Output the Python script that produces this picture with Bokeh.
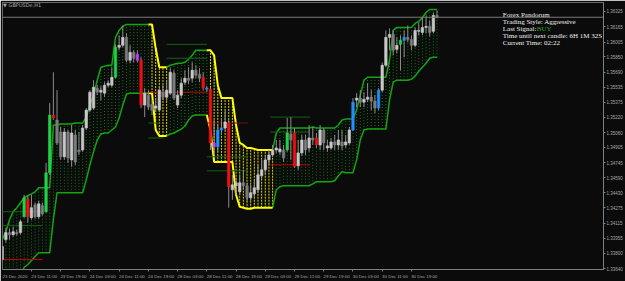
import numpy as np
from bokeh.plotting import figure
from bokeh.models import FixedTicker, NumeralTickFormatter, Span, Label, ColumnDataSource
from bokeh.core.properties import value
from bokeh.embed import file_html
from bokeh.resources import INLINE

# ---------------- data ----------------
symbol_title = "\u25BC GBPUSDe,H1"

open_ = [
    1.33735, 1.33943, 1.34016, 1.33995, 1.34016, 1.34016, 1.34182, 1.34369, 1.34172, 1.34307,
    1.34182, 1.34297, 1.34234, 1.34640, 1.35243, 1.35191, 1.35066, 1.34807, 1.35066, 1.34775,
    1.35035, 1.34879, 1.34879, 1.35108, 1.35295, 1.35316, 1.35524, 1.35482, 1.35472, 1.35555,
    1.35555, 1.35638, 1.35950, 1.35971, 1.36054, 1.35815, 1.35898, 1.35877, 1.35815, 1.35347,
    1.35451, 1.35357, 1.35316, 1.35295, 1.35482, 1.35430, 1.35472, 1.35680, 1.35347, 1.35451,
    1.35586, 1.35628, 1.35628, 1.35711, 1.35669, 1.35638, 1.35524, 1.35513, 1.34952, 1.34911,
    1.35087, 1.35108, 1.35160, 1.34463, 1.34505, 1.34442, 1.34536, 1.34505, 1.34380, 1.34421,
    1.34463, 1.34609, 1.34671, 1.34775, 1.34827, 1.34879, 1.34859, 1.34879, 1.34879, 1.35045,
    1.35056, 1.34713, 1.34848, 1.34983, 1.34900, 1.35004, 1.35004, 1.34931, 1.35087, 1.34900,
    1.34900, 1.34963, 1.34931, 1.34963, 1.34931, 1.34952, 1.35087, 1.35399, 1.35420, 1.35378,
    1.35409, 1.35430, 1.35389, 1.35316, 1.35503, 1.35763, 1.36054, 1.36085, 1.35929, 1.35981,
    1.36023, 1.36054, 1.36033, 1.35971, 1.36117, 1.36106, 1.36158, 1.36169, 1.36117, 1.36283,
]
high = [
    1.33943, 1.34068, 1.34057, 1.34078, 1.34047, 1.34151, 1.34411, 1.34401, 1.34411, 1.34328,
    1.34349, 1.34328, 1.34744, 1.35368, 1.35690, 1.35503, 1.35118, 1.35108, 1.35087, 1.35139,
    1.35087, 1.35066, 1.35139, 1.35316, 1.35503, 1.35607, 1.35555, 1.35545, 1.35586, 1.35607,
    1.35742, 1.35981, 1.36075, 1.36179, 1.36096, 1.35971, 1.35919, 1.35919, 1.35846, 1.35524,
    1.35503, 1.35399, 1.35420, 1.35545, 1.35555, 1.35607, 1.35732, 1.35711, 1.35503, 1.35628,
    1.35711, 1.35742, 1.35794, 1.35763, 1.35732, 1.35690, 1.35545, 1.35534, 1.35191, 1.35139,
    1.35212, 1.35295, 1.35191, 1.34619, 1.34588, 1.34619, 1.34671, 1.34536, 1.34515, 1.34567,
    1.34723, 1.34775, 1.34827, 1.34879, 1.34931, 1.34983, 1.34983, 1.34931, 1.35212, 1.35222,
    1.35108, 1.34983, 1.35035, 1.35035, 1.35139, 1.35118, 1.35056, 1.35139, 1.35108, 1.34983,
    1.35004, 1.35035, 1.35087, 1.35087, 1.35035, 1.35118, 1.35420, 1.35472, 1.35503, 1.35482,
    1.35576, 1.35503, 1.35451, 1.35524, 1.35794, 1.36127, 1.36148, 1.36127, 1.36054, 1.36075,
    1.36127, 1.36179, 1.36075, 1.36158, 1.36210, 1.36262, 1.36283, 1.36231, 1.36314, 1.36335,
]
low = [
    1.33714, 1.33912, 1.33943, 1.33974, 1.33985, 1.33995, 1.34172, 1.34120, 1.34151, 1.34161,
    1.34161, 1.34193, 1.34224, 1.34619, 1.35191, 1.34931, 1.34775, 1.34775, 1.34744, 1.34703,
    1.34723, 1.34827, 1.34859, 1.35087, 1.35274, 1.35295, 1.35451, 1.35399, 1.35430, 1.35534,
    1.35534, 1.35628, 1.35919, 1.35950, 1.35794, 1.35784, 1.35794, 1.35794, 1.35316, 1.35222,
    1.35295, 1.35243, 1.35274, 1.35274, 1.35399, 1.35378, 1.35451, 1.35399, 1.35316, 1.35420,
    1.35555, 1.35565, 1.35586, 1.35628, 1.35586, 1.35503, 1.35482, 1.34879, 1.34827, 1.34859,
    1.35035, 1.35087, 1.34276, 1.34359, 1.34411, 1.34411, 1.34463, 1.34338, 1.34338, 1.34390,
    1.34432, 1.34567, 1.34619, 1.34723, 1.34807, 1.34848, 1.34827, 1.34754, 1.34859, 1.34775,
    1.34692, 1.34671, 1.34817, 1.34827, 1.34859, 1.34931, 1.34900, 1.34879, 1.34879, 1.34859,
    1.34879, 1.34879, 1.34879, 1.34879, 1.34900, 1.34931, 1.35077, 1.35326, 1.35326, 1.35326,
    1.35378, 1.35295, 1.35264, 1.35295, 1.35482, 1.35742, 1.35919, 1.35867, 1.35888, 1.35711,
    1.35846, 1.36002, 1.35919, 1.35950, 1.36075, 1.36075, 1.36096, 1.36065, 1.36096, 1.36252,
]
close = [
    1.33871, 1.34016, 1.33995, 1.34026, 1.34005, 1.34130, 1.34380, 1.34182, 1.34276, 1.34182,
    1.34317, 1.34213, 1.34640, 1.35243, 1.35212, 1.34952, 1.34807, 1.35066, 1.34796, 1.35056,
    1.34754, 1.34859, 1.35108, 1.35295, 1.35482, 1.35534, 1.35482, 1.35503, 1.35555, 1.35576,
    1.35638, 1.35950, 1.35971, 1.36054, 1.35815, 1.35898, 1.35836, 1.35815, 1.35347, 1.35472,
    1.35326, 1.35295, 1.35337, 1.35503, 1.35430, 1.35503, 1.35690, 1.35420, 1.35451, 1.35576,
    1.35628, 1.35607, 1.35711, 1.35659, 1.35628, 1.35524, 1.35513, 1.34952, 1.34911, 1.35087,
    1.35108, 1.35170, 1.34494, 1.34515, 1.34536, 1.34536, 1.34505, 1.34380, 1.34432, 1.34484,
    1.34619, 1.34671, 1.34775, 1.34827, 1.34879, 1.34900, 1.34890, 1.34796, 1.35056, 1.34983,
    1.34703, 1.34848, 1.34983, 1.34879, 1.35004, 1.34983, 1.34931, 1.35087, 1.34952, 1.34921,
    1.34963, 1.34931, 1.34983, 1.34921, 1.34963, 1.35087, 1.35378, 1.35420, 1.35378, 1.35409,
    1.35430, 1.35389, 1.35316, 1.35503, 1.35763, 1.36054, 1.36085, 1.35919, 1.35971, 1.36023,
    1.36054, 1.36033, 1.35971, 1.36127, 1.36127, 1.36158, 1.36169, 1.36106, 1.36283, 1.36264,
]

# channel bounds per bar
upper = [
    1.33943, 1.34026, 1.34151, 1.34234, 1.34276, 1.34328, 1.34380, 1.34401, 1.34421, 1.34442,
    1.34484, 1.34484, 1.34484, 1.34484, 1.35139, 1.35139, 1.35149, 1.35149, 1.35149, 1.35149,
    1.35160, 1.35160, 1.35160, 1.35222, 1.35347, 1.35451, 1.35607, 1.35742, 1.35753, 1.35763,
    1.35763, 1.36054, 1.36127, 1.36169, 1.36189, 1.36189, 1.36189, 1.36189, 1.36189, 1.36189,
    1.36189, 1.36189, 1.35940, 1.35742, 1.35742, 1.35742, 1.35763, 1.35773, 1.35784, 1.35784,
    1.35794, 1.35825, 1.35867, 1.35919, 1.35919, 1.35919, 1.35919, 1.35919, 1.35867, 1.35555,
    1.35420, 1.35420, 1.35420, 1.35420, 1.35139, 1.34952, 1.34931, 1.34900, 1.34900, 1.34890,
    1.34879, 1.34879, 1.34879, 1.34879, 1.34879, 1.35056, 1.35108, 1.35108, 1.35108, 1.35108,
    1.35108, 1.35108, 1.35108, 1.35108, 1.35108, 1.35118, 1.35108, 1.35108, 1.35108, 1.35108,
    1.35108, 1.35108, 1.35139, 1.35191, 1.35201, 1.35201, 1.35201, 1.35295, 1.35451, 1.35607,
    1.35638, 1.35638, 1.35638, 1.35638, 1.35638, 1.35638, 1.35815, 1.36127, 1.36158, 1.36158,
    1.36158, 1.36158, 1.36158, 1.36200, 1.36221, 1.36262, 1.36314, 1.36345, 1.36345, 1.36345,
]
lower = [
    1.33319, 1.33340, 1.33371, 1.33402, 1.33444, 1.33579, 1.33652, 1.33683, 1.33725, 1.33766,
    1.33807, 1.33807, 1.33807, 1.33807, 1.34151, 1.34432, 1.34432, 1.34432, 1.34432, 1.34432,
    1.34432, 1.34432, 1.34432, 1.34567, 1.34723, 1.34859, 1.34983, 1.35045, 1.35056, 1.35056,
    1.35087, 1.35118, 1.35212, 1.35347, 1.35461, 1.35472, 1.35472, 1.35472, 1.35472, 1.35472,
    1.35472, 1.35472, 1.35087, 1.35025, 1.35025, 1.35025, 1.35045, 1.35056, 1.35077, 1.35097,
    1.35129, 1.35191, 1.35233, 1.35243, 1.35243, 1.35243, 1.35243, 1.35087, 1.34754, 1.34754,
    1.34754, 1.34754, 1.34754, 1.34754, 1.34411, 1.34286, 1.34276, 1.34265, 1.34265, 1.34276,
    1.34276, 1.34276, 1.34276, 1.34276, 1.34276, 1.34463, 1.34494, 1.34505, 1.34505, 1.34505,
    1.34505, 1.34505, 1.34505, 1.34505, 1.34505, 1.34525, 1.34547, 1.34547, 1.34547, 1.34547,
    1.34547, 1.34557, 1.34609, 1.34651, 1.34640, 1.34640, 1.34640, 1.34775, 1.34983, 1.35087,
    1.35097, 1.35097, 1.35097, 1.35097, 1.35097, 1.35097, 1.35399, 1.35586, 1.35607, 1.35607,
    1.35607, 1.35607, 1.35617, 1.35649, 1.35701, 1.35742, 1.35784, 1.35836, 1.35846, 1.35846,
]
# bars where the channel is in its yellow (bearish) state
yellow_runs = [(41, 45), (57, 74)]

# highlighted candle bodies
green_bars = [6, 12, 13, 31, 78, 109]
red_bars = [7, 14, 38, 55, 57, 62, 80, 86]
blue_bars = [56, 59, 60, 96, 103, 110]
magenta_bars = [37, 58]

# horizontal levels (bar start, bar end, price, kind)
level_x0 = [-1, -1, -1, 40, 40, 40, 45, 45, 56, 56, 56, 73.3, 73.3, 73.3]
level_x1 = [11, 11, 11, 56, 43.3, 44.1, 56, 56, 67.3, 67.3, 67.3, 84.2, 84.2, 84.2]
level_price = [1.33735, 1.34089, 1.34234, 1.35482, 1.35160, 1.35004, 1.35981, 1.35836,
               1.35160, 1.34807, 1.34661, 1.34723, 1.35222, 1.35066]
level_kind = ["red", "green", "green", "red", "green", "green", "green", "green",
              "darkred", "green", "green", "red", "green", "green"]

bid = 1.36264

date_bars = [0, 8, 16, 24, 32, 40, 48, 56, 64, 72, 80, 88, 96, 104, 112]
date_labels = ["23 Dec 2020", "23 Dec 11:00", "23 Dec 19:00", "24 Dec 03:00", "24 Dec 11:00",
               "24 Dec 19:00", "28 Dec 03:00", "28 Dec 11:00", "28 Dec 19:00", "29 Dec 03:00",
               "29 Dec 11:00", "29 Dec 19:00", "30 Dec 03:00", "30 Dec 11:00", "30 Dec 19:00"]
price_ticks = [1.36325, 1.36165, 1.36005, 1.35850, 1.35690, 1.35535, 1.35375, 1.35220, 1.35060,
               1.34905, 1.34745, 1.34590, 1.34430, 1.34275, 1.34115, 1.33955, 1.33800, 1.33640]

info_lines = ["Forex Pandorum", "Trading Style: Aggressive", "Last Signal:",
              "Time until next candle: 6H 1M 32S", "Current Time: 02:22"]
signal_text = "BUY"

# ---------------- figure ----------------
BG = "#0b0b0b"
p = figure(width=625, height=281, x_range=(0.08, 164.56), y_range=(1.33631, 1.36418),
           output_backend="svg", toolbar_location=None, title=None,
           y_axis_location="right", x_axis_location="below",
           min_border_left=2, min_border_right=21, min_border_top=2, min_border_bottom=11,
           background_fill_color=BG, border_fill_color=BG, outline_line_color="#6a6a6a")
p.grid.visible = False

n = len(close)
idx = np.arange(n)
trend = np.zeros(n, dtype=int)
for a, b in yellow_runs:
    trend[a:b + 1] = 1
upper_a = np.array(upper)
lower_a = np.array(lower)

# dotted verticals filling the channel
gmask = trend == 0
ymask = trend == 1
p.segment(x0=idx[gmask], x1=idx[gmask], y0=lower_a[gmask], y1=upper_a[gmask],
          line_color="#147a14", line_width=1, line_dash="1 2")
p.segment(x0=idx[ymask], x1=idx[ymask], y0=lower_a[ymask], y1=upper_a[ymask],
          line_color="#d6d600", line_width=1, line_dash="2 1")

# channel border lines, split by state
def runs(vals):
    out = {0: ([], []), 1: ([], [])}
    i = 1
    while i < n:
        t = trend[i]
        j = i
        while j + 1 < n and trend[j + 1] == t:
            j += 1
        xs = list(range(i - 1, j + 1))
        out[t][0].append(xs)
        out[t][1].append([vals[k] for k in xs])
        i = j + 1
    return out

for vals in (upper, lower):
    r = runs(vals)
    p.multi_line(xs=r[0][0], ys=r[0][1], line_color="#12a512", line_width=1.5)
    p.multi_line(xs=r[1][0], ys=r[1][1], line_color="#ffff00", line_width=2)

# horizontal levels
kind_color = {"red": "#c40000", "darkred": "#701010", "green": "#126312"}
p.segment(x0=level_x0, x1=level_x1, y0=level_price, y1=level_price,
          line_color=[kind_color[k] for k in level_kind], line_width=1)

# bid line
p.add_layout(Span(location=bid, dimension="width", line_color="#7a7a7a", line_width=1))

# candles
o = np.array(open_); c = np.array(close)
body_col = np.where(c >= o, "#c8c8c8", "#7c7c7c").astype(object)
for lst, col in ((green_bars, "#22d24a"), (red_bars, "#ee1111"),
                 (blue_bars, "#1e90ff"), (magenta_bars, "#c040ff")):
    for k in lst:
        body_col[k] = col
src = ColumnDataSource(dict(x=idx, high=high, low=low, top=np.maximum(o, c),
                            bottom=np.minimum(o, c), col=list(body_col)))
p.segment(x0="x", x1="x", y0="low", y1="high", source=src, line_color="#8c8c8c", line_width=1)
p.vbar(x="x", width=0.68, top="top", bottom="bottom", source=src,
       fill_color="col", line_color="col", line_width=0.6)

# axes
xa = p.xaxis[0]
xa.ticker = FixedTicker(ticks=[b + 3.5 for b in date_bars], minor_ticks=date_bars)
xa.major_label_overrides = {b + 3.5: lab for b, lab in zip(date_bars, date_labels)}
xa.major_tick_out = 0
xa.major_tick_in = 0
xa.minor_tick_out = 2
xa.minor_tick_in = 0
xa.minor_tick_line_color = "#808080"
xa.axis_line_color = "#808080"
xa.major_label_standoff = 2
xa.major_label_text_font = "Liberation Sans"
xa.major_label_text_font_size = "4.4px"
xa.major_label_text_color = "#a8a8a8"

ya = p.yaxis[0]
ya.ticker = FixedTicker(ticks=price_ticks)
ya.formatter = NumeralTickFormatter(format="0.00000")
ya.major_tick_out = 2
ya.major_tick_in = 0
ya.minor_tick_out = 0
ya.minor_tick_in = 0
ya.major_tick_line_color = "#808080"
ya.axis_line_color = "#808080"
ya.major_label_standoff = 1
ya.major_label_text_font = "Liberation Sans"
ya.major_label_text_font_size = "4.5px"
ya.major_label_text_color = "#a8a8a8"

# current price box on the axis
p.add_layout(Label(x=164.75, y=bid, text="1.36264", text_font="Liberation Sans",
                   text_font_size="4.5px", text_color="#000000", text_baseline="middle",
                   background_fill_color="#c4c4c4", border_line_color="#c4c4c4"))

# header text
p.text(x=[0.25], y=[1.36387], text=[symbol_title], text_font=value("DejaVu Sans"),
       text_font_size="5px", text_color="#a8a8a8", text_baseline="middle")

# info panel
info_y = [1.36288, 1.36215, 1.36143, 1.36070, 1.35997]
p.text(x=[137.0] * len(info_lines), y=info_y, text=info_lines,
       text_font=value("Liberation Serif"), text_font_size="7px",
       text_color="#f0f0f0", text_baseline="middle")
p.text(x=[146.3], y=[info_y[2]], text=[signal_text], text_font=value("Liberation Serif"),
       text_font_size="7px", text_color="#1fa01f", text_baseline="middle")

open("out.html", "w").write(file_html(p, INLINE))
